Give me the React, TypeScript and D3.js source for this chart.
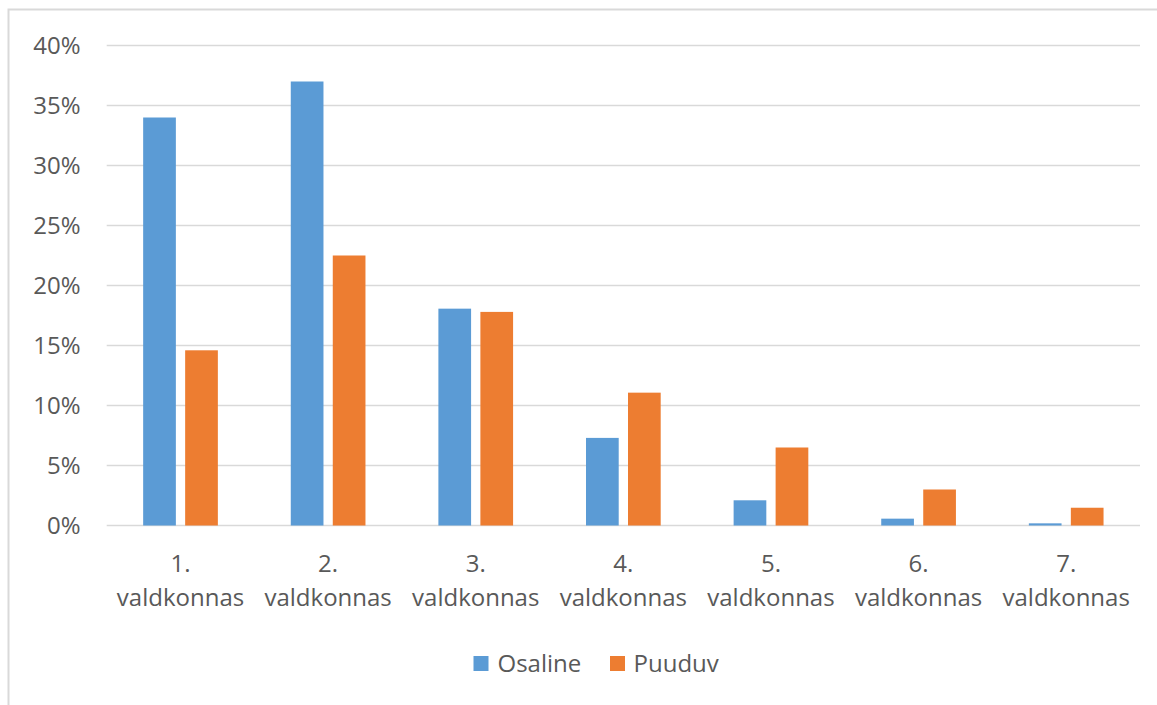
import React from "react";
import * as d3 from "d3";

const categories = ["1.", "2.", "3.", "4.", "5.", "6.", "7."];
const categoryWord = "valdkonnas";
const seriesNames = ["Osaline", "Puuduv"];
const osaline = [0.34, 0.37, 0.1807, 0.073, 0.021, 0.0057, 0.0018];
const puuduv = [0.146, 0.225, 0.178, 0.1107, 0.065, 0.030, 0.0148];
const yTicks = [0, 0.05, 0.1, 0.15, 0.2, 0.25, 0.3, 0.35, 0.4];
const colors = ["#5B9BD5", "#ED7D31"];

const W = 1157;
const H = 705;
const FONT = "'Open Sans', 'Noto Sans', sans-serif";
const TEXT = "#595959";
const GRID = "#D9D9D9";

export default function App() {
  const y = d3.scaleLinear().domain([0, 0.4]).range([525.5, 45.5]);
  const x0 = d3
    .scaleBand<string>()
    .domain(categories)
    .range([106.7, 1140])
    .paddingInner(0.494)
    .paddingOuter(0.247);
  const x1 = d3
    .scaleBand<string>()
    .domain(seriesNames)
    .range([0, x0.bandwidth()])
    .paddingInner(0.2214);
  const seriesValues = [osaline, puuduv];
  const fmt = d3.format(".0%");

  return (
    <svg
      width={W}
      height={H}
      style={{ position: "absolute", left: 0, top: 0, background: "#fff" }}
      fontFamily={FONT}
    >
      <rect x={0} y={0} width={W} height={H} fill="#fff" />
      {/* chart frame (cropped) */}
      <rect x={8.5} y={9.5} width={W + 20} height={H + 20} fill="none" stroke={GRID} strokeWidth={2} />
      {/* gridlines */}
      {yTicks.map((t) => (
        <line
          key={"g" + t}
          x1={106.7}
          x2={1140}
          y1={y(t)}
          y2={y(t)}
          stroke={GRID}
          strokeWidth={1.4}
        />
      ))}
      {/* y tick labels */}
      {yTicks.map((t) => (
        <text
          key={"t" + t}
          x={80.5}
          y={y(t)}
          dy="0.36em"
          textAnchor="end"
          fontSize={24}
          fill={TEXT}
        >
          {fmt(t)}
        </text>
      ))}
      {/* bars */}
      {categories.map((c, i) => (
        <g key={"c" + c} transform={`translate(${x0(c)},0)`}>
          {seriesNames.map((s, j) => {
            const v = seriesValues[j][i];
            return (
              <rect
                key={s}
                x={x1(s)}
                y={y(v)}
                width={x1.bandwidth()}
                height={y(0) - y(v)}
                fill={colors[j]}
              />
            );
          })}
        </g>
      ))}
      {/* category labels */}
      {categories.map((c) => {
        const cx = (x0(c) as number) + x0.bandwidth() / 2;
        return (
          <text key={"l" + c} x={cx} textAnchor="middle" fontSize={24} fill={TEXT}>
            <tspan x={cx} y={571.5}>
              {c}
            </tspan>
            <tspan x={cx} y={606}>
              {categoryWord}
            </tspan>
          </text>
        );
      })}
      {/* legend */}
      <g>
        <rect x={473.5} y={656} width={15} height={15} fill={colors[0]} />
        <text x={497.5} y={672} fontSize={24} fill={TEXT}>
          {seriesNames[0]}
        </text>
        <rect x={610} y={656} width={15} height={15} fill={colors[1]} />
        <text x={633.5} y={672} fontSize={24} fill={TEXT}>
          {seriesNames[1]}
        </text>
      </g>
    </svg>
  );
}
